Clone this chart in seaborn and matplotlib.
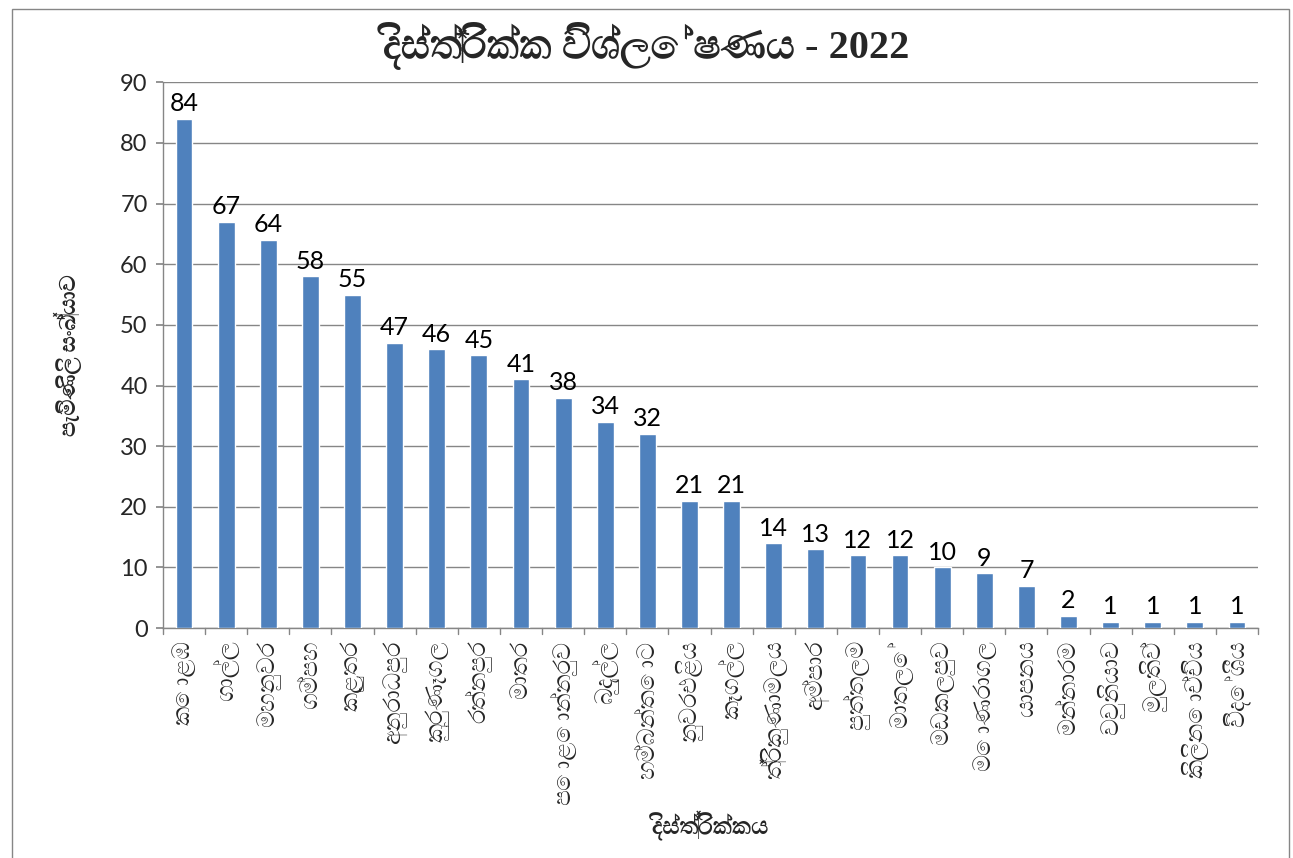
import matplotlib
matplotlib.use("Agg")
import matplotlib.pyplot as plt
from matplotlib import font_manager
import seaborn as sns
import pandas as pd

# District names (Sinhala) and number of complaints per district
districts = [
    "කොළඹ", "ගාල්ල", "මහනුවර", "ගම්පහ", "කළුතර", "අනුරාධපුර", "කුරුණෑගල",
    "රත්නපුර", "මාතර", "පොළොන්නරුව", "බදුල්ල", "හම්බන්තොට", "නුවරඑළිය",
    "කෑගල්ල", "ත්‍රිකුණාමලය", "අම්පාර", "පුත්තලම", "මාතලේ", "මඩකලපුව",
    "මොණරාගල", "යාපනය", "මන්නාරම", "වවුනියාව", "මුලතිව්", "කිලිනොච්චිය", "විදේශීය",
]
complaints = [84, 67, 64, 58, 55, 47, 46, 45, 41, 38, 34, 32, 21, 21, 14, 13,
              12, 12, 10, 9, 7, 2, 1, 1, 1, 1]
y_ticks = [0, 10, 20, 30, 40, 50, 60, 70, 80, 90]

title_text = "දිස්ත්‍රික්ක විශ්ලේෂණය - 2022"
x_title = "දිස්ත්‍රික්කය"
y_title = "පැමිණිලි සංඛ්‍යාව"

sns.set_theme(style="white")

# Fonts that cover Sinhala script, used as fallback after the Latin families
sinhala_fonts = []
for f in font_manager.fontManager.ttflist:
    n = f.name.lower()
    if "sinhala" in n or "iskoola" in n or "freeserif" in n or "freesans" in n:
        sinhala_fonts.append(f.name)
sinhala_fonts = list(dict.fromkeys(sinhala_fonts))
sans_families = ["Lato"] + sinhala_fonts + ["DejaVu Sans"]
serif_families = ["Liberation Serif"] + sinhala_fonts + ["DejaVu Sans"]
plt.rcParams["font.family"] = sans_families

df = pd.DataFrame({"district": districts, "count": complaints})

fig = plt.figure(figsize=(12.93, 8.58), dpi=100)
ax = fig.add_axes([0.126, 0.268, 0.847, 0.636])

sns.barplot(data=df, x="district", y="count", color="#4F81BD",
            width=0.4, saturation=1, ax=ax, zorder=3)

ax.set_ylim(0, 90)
ax.set_xlim(-0.5, len(districts) - 0.5)
ax.set_yticks(y_ticks)
ax.tick_params(axis="y", labelsize=17, length=5, color="#868686", direction="out",
               left=True, pad=6)
ax.tick_params(axis="x", labelsize=17, rotation=90, length=0, pad=9)
for lbl in ax.get_xticklabels():
    lbl.set_verticalalignment("top")

# category separator ticks along the x axis
for i in range(len(districts) + 1):
    ax.plot([i - 0.5, i - 0.5], [0, -1.0], color="#868686", lw=1, clip_on=False, zorder=4)

ax.yaxis.grid(True, color="#868686", lw=1, zorder=0)
ax.set_axisbelow(True)
for side in ["top", "right"]:
    ax.spines[side].set_visible(False)
for side in ["left", "bottom"]:
    ax.spines[side].set_color("#868686")
    ax.spines[side].set_linewidth(1)

# value labels above each bar
for i, v in enumerate(complaints):
    ax.text(i, v + 0.6, str(v), ha="center", va="bottom", fontsize=18, color="black")

ax.set_xlabel(x_title, fontsize=17, fontweight="bold")
ax.xaxis.set_label_coords(0.5, -0.335)
ax.set_ylabel(y_title, fontsize=16, fontweight="bold")
ax.yaxis.set_label_coords(-0.074, 0.5)
fig.text(0.5, 0.948, title_text, ha="center", va="center", fontsize=29,
         fontweight="bold", family=serif_families)

# outer chart frame
frame = plt.Rectangle((0.009, -0.01), 0.988, 1.0, transform=fig.transFigure,
                      fill=False, edgecolor="#868686", lw=1)
fig.add_artist(frame)

fig.savefig("out.png", dpi=100, facecolor="white")
